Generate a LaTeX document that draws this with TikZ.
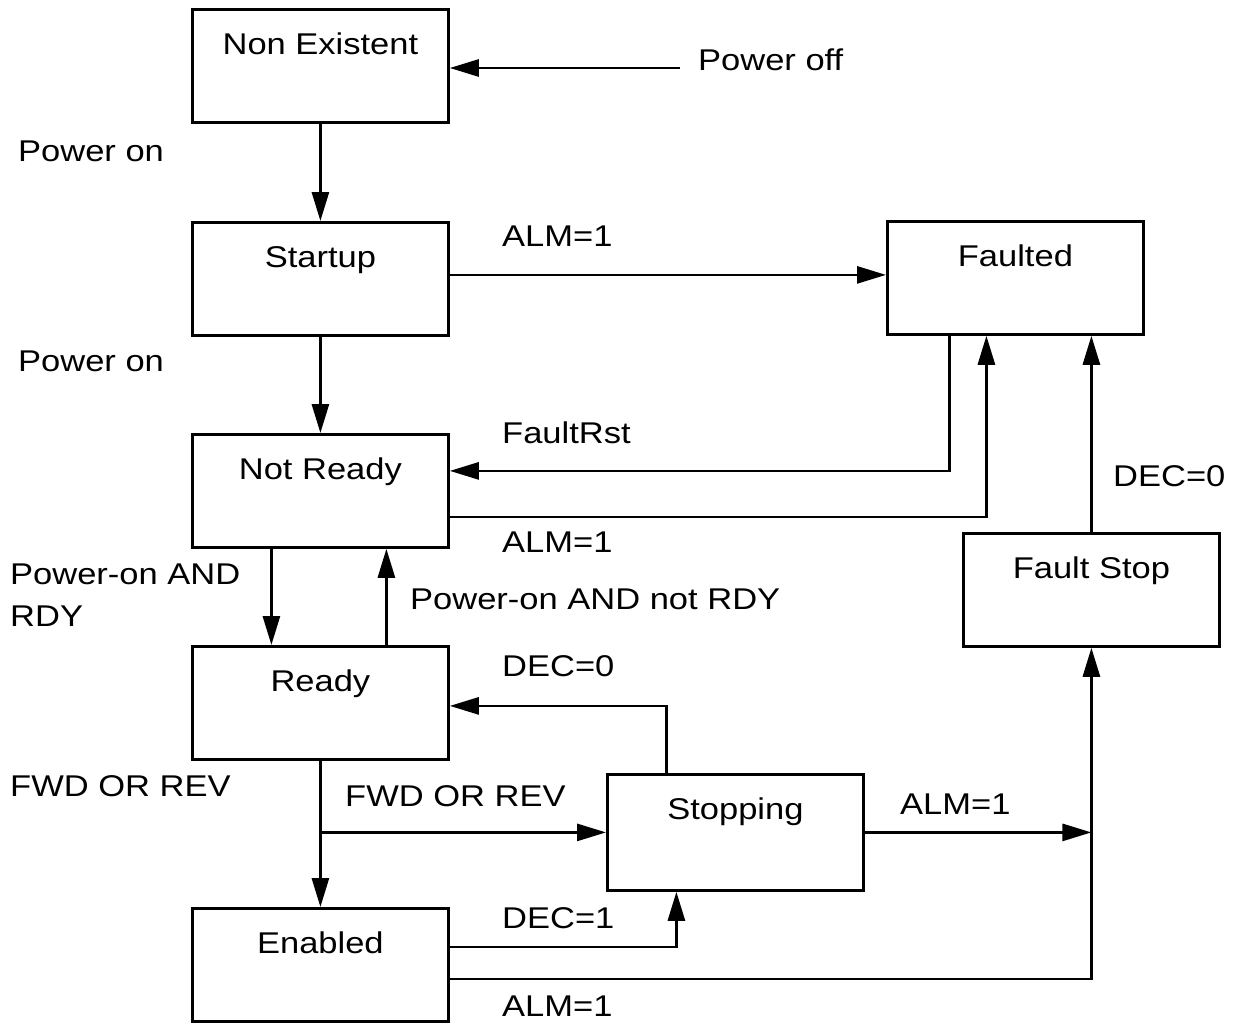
\documentclass[tikz,border=0pt]{standalone}
\usepackage{fontspec}
\setmainfont{Liberation Sans}
\usetikzlibrary{arrows.meta}
\newcommand{\wx}[1]{\scalebox{1.15}[1]{#1}}
\begin{document}
\begin{tikzpicture}[x=1pt,y=-1pt,
  every node/.style={font=\fontsize{30}{35}\selectfont},
  box/.style={draw, line width=2.8pt, inner sep=0pt, minimum width=256pt,
    text height=45pt, text depth=68pt, anchor=north west},
  lbl/.style={anchor=base west, inner sep=0pt},
  conn/.style={line width=2.8pt},
  arr/.style={conn, -{Triangle[length=29pt,width=17pt]}}]
\useasboundingbox (0,0) rectangle (1236,1022);
% states
\node[box] (ne) at (191,8)   {\wx{Non Existent}};
\node[box] (su) at (191,221) {\wx{Startup}};
\node[box] (nr) at (191,433) {\wx{Not Ready}};
\node[box] (rd) at (191,645) {\wx{Ready}};
\node[box] (en) at (191,907) {\wx{Enabled}};
\node[box] (fa) at (886,220) {\wx{Faulted}};
\node[box] (fs) at (962,532) {\wx{Fault Stop}};
\node[box, text depth=71pt] (st) at (606,773) {\wx{Stopping}};
% labels
\node[lbl] (lpoff) at (698,71)  {\wx{Power off}};
\node[lbl] (lpon1) at (18,161)  {\wx{Power on}};
\node[lbl] (la1)   at (502,246) {\wx{ALM=1}};
\node[lbl] (lpon2) at (18,371)  {\wx{Power on}};
\node[lbl] (lfr)   at (502,443) {\wx{FaultRst}};
\node[lbl] (la2)   at (502,552) {\wx{ALM=1}};
\node[lbl] (lpar1) at (10,584)  {\wx{Power-on AND}};
\node[lbl] (lpar2) at (10,626)  {\wx{RDY}};
\node[lbl] (lpnr)  at (410,609) {\wx{Power-on AND not RDY}};
\node[lbl] (ld0a)  at (502,676) {\wx{DEC=0}};
\node[lbl] (lfw1)  at (10,796)  {\wx{FWD OR REV}};
\node[lbl] (lfw2)  at (345,806) {\wx{FWD OR REV}};
\node[lbl] (la3)   at (900,814) {\wx{ALM=1}};
\node[lbl] (ld0b)  at (1113,486){\wx{DEC=0}};
\node[lbl] (ld1)   at (502,928) {\wx{DEC=1}};
\node[lbl] (la4)   at (502,1016){\wx{ALM=1}};
% connectors
\coordinate (poff) at (680,68);
\draw[arr] (poff) -- (ne.east |- poff);
\draw[arr] (ne.south) -- (su.north);
\draw[arr] ([yshift=4pt]su.east) -- ([yshift=4pt]fa.west |- su.east);
\draw[arr] (su.south) -- (nr.north);
\draw[arr] ([xshift=-66pt]fa.south) |- ([yshift=20pt]nr.east);
\draw[arr] ([yshift=-26pt]nr.east) -| ([xshift=-29pt]fa.south);
\draw[arr] ([xshift=-49pt]nr.south) -- ([xshift=-49pt]rd.north);
\draw[arr] ([xshift=66pt]rd.north) -- ([xshift=66pt]nr.south);
\draw[arr] ([xshift=-69pt]st.north) |- ([yshift=-3pt]rd.east);
\draw[arr] (rd.south) -- (en.north);
\coordinate (br) at (rd.south |- st.west);
\draw[arr] (br) -- (st.west);
\coordinate (j1) at (st.east -| fs.south);
\draw[arr] (st.east) -- (j1);
\draw[arr] ([yshift=18pt]en.east) -| ([xshift=-59pt]st.south);
\draw[arr] ([yshift=-14pt]en.east) -| (fs.south);
\draw[arr] (fs.north) -- (fs.north |- fa.south);
\end{tikzpicture}
\end{document}
